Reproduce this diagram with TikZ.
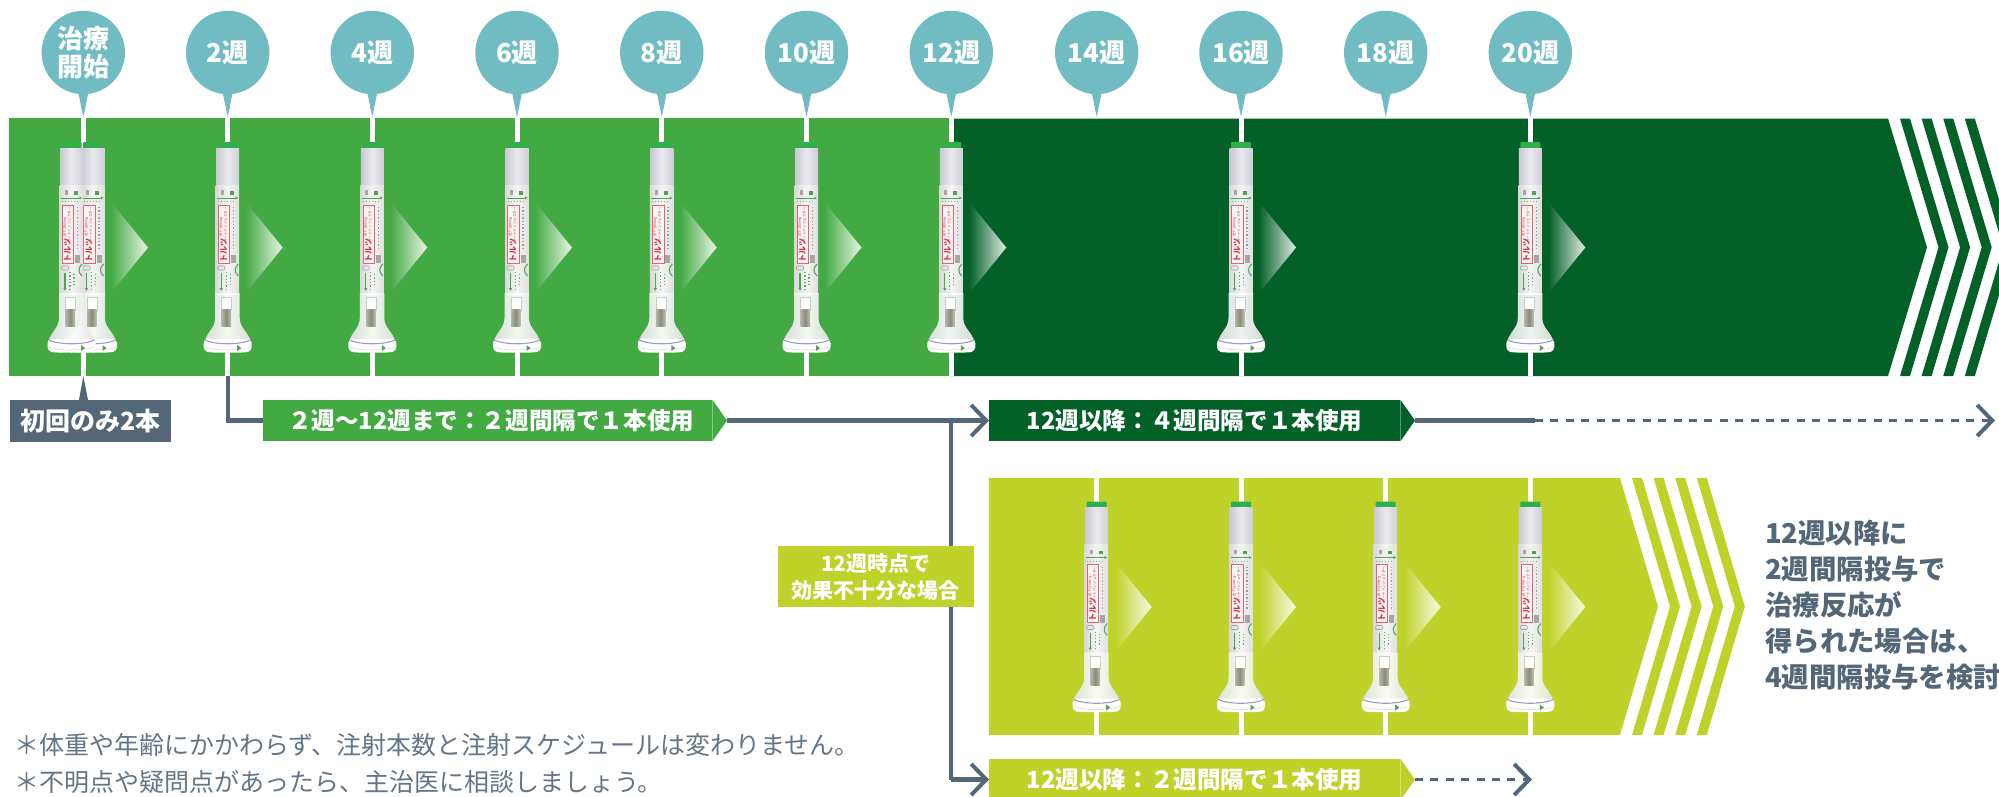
\documentclass[tikz,border=0pt]{standalone}
\usepackage{fontspec}
\setmainfont{Noto Sans CJK JP}
\usetikzlibrary{arrows.meta,calc}
\definecolor{cgreen}{HTML}{43A942}
\definecolor{cdark}{HTML}{036127}
\definecolor{clime}{HTML}{BFD22A}
\definecolor{cslate}{HTML}{536778}
\definecolor{cbub}{HTML}{71BCC2}
\definecolor{ccap}{HTML}{2FAE4B}
\definecolor{cpgreen}{HTML}{4BA84E}
\definecolor{cpred}{HTML}{E0313C}
\definecolor{cpgray}{HTML}{C9C9D3}
\tikzset{
  px/.style={x=1pt,y=-1pt},
  bubble/.style={circle,fill=cbub,text=white,minimum size=83.4pt,inner sep=0pt,align=center,
    font=\fontsize{26}{27.5}\selectfont\bfseries},
  banner/.style={rectangle,anchor=west,minimum height=41pt,inner sep=0pt,text=white,
    font=\fontsize{23.6}{26}\selectfont\bfseries},
  conn/.style={draw=cslate,line width=4.2pt},
  connarrow/.style={conn,-{Straight Barb[length=15pt,width=31pt,line width=4pt]}},
  dashconn/.style={draw=cslate,line width=3.7pt,dash pattern=on 8pt off 7.4pt,-{Straight Barb[length=15pt,width=31pt,line width=4pt]}},
  whiteline/.style={draw=white,line width=5pt},
  note/.style={anchor=west,inner sep=0pt,text=cslate!90,font=\fontsize{25}{25}\selectfont},
  side/.style={anchor=west,inner sep=0pt,text=cslate,font=\fontsize{27.4}{27.4}\selectfont\bfseries},
}
% gradient triangle beside a pen
\newcommand\tjtri[3]{%
  \shade[left color=#3,right color=white!88!#3]
    ($(#1,#2)+(18,202)$) -- ($(#1,#2)+(55,247.5)$) -- ($(#1,#2)+(18,293)$) -- cycle;}
% the auto-injector
\newcommand\tjpen[2]{%
\begin{scope}[shift={(#1,#2)}]
  \fill[ccap,rounded corners=1pt] (-10,142) rectangle (10,148.5);
  \shade[left color=cpgray,right color=cpgray!90,middle color=cpgray!40] (-11.5,148) rectangle (11.5,185);
  \shade[left color=gray!30,right color=gray!25,middle color=gray!8] (-12,185) rectangle (11.5,294);
  % clear part and flared foot
  \shade[left color=gray!22,right color=gray!22,middle color=white,opacity=.93] (-12.5,293) -- (12,293) -- (12,318)
     .. controls (12,328) and (20,331) .. (23.5,342) -- (-23.5,342)
     .. controls (-20,331) and (-12.5,328) .. (-12.5,318) -- cycle;
  \fill[white,opacity=.9] (-6,297) rectangle (4,312);
  \draw[gray!40,line width=.5pt] (-6,297) rectangle (4,310);
  \shade[left color=gray!60,right color=gray!50,middle color=gray!110!blue!100] (-6,309) rectangle (3.5,326);
  \fill[white,rounded corners=4pt] (-24,339) -- (24,339) -- (24,351)
     .. controls (16,353) and (-16,353) .. (-24,351) -- cycle;
  \draw[blue!30!gray!60,line width=1.1pt] (-23,340) .. controls (-12,345) and (12,345) .. (23,340);
  \draw[gray!35,line width=.5pt] (-23,347) .. controls (-12,351) and (12,351) .. (23,347);
  \fill[cpgreen] (9.5,345) -- (13.5,348) -- (9.5,351) -- cycle;
  % printed details
  \fill[gray!70] (-7,190) rectangle (-4,194.5);
  \fill[cpgreen] (2,191) rectangle (6,194.5);
  \draw[cpgreen,line width=.9pt,-{Latex[length=2.5pt,width=3pt]}] (-10.5,198) -- (10.5,198);
  \draw[cpgreen!80,line width=1pt,dotted] (-9.5,201.5) -- (7,201.5);
  \draw[cpred!75,line width=.6pt,fill=white!92!gray] (-9.3,205) rectangle (2,263);
  \node[rotate=90,text=cpred,inner sep=0pt,font=\fontsize{8}{8}\selectfont\bfseries] (pa) at (-4,250) {トルツ};
  \node[rotate=90,text=cpred,inner sep=0pt,font=\fontsize{3.6}{3.6}\selectfont] (pb) at (-2.3,225) {オートインジェクター};
  \node[rotate=90,text=cpred,inner sep=0pt,font=\fontsize{3.4}{3.4}\selectfont] (pc) at (-6.7,227) {皮下注80mg};
  \draw[gray!75,line width=1.4pt,dotted] (6,207) -- (6,250);
  \fill[gray!70] (3.5,255) rectangle (8.5,263);
  \draw[gray!70,line width=.6pt,rounded corners=1pt] (-10,266) rectangle (-3,270);
  \draw[cpgreen,line width=1.1pt,-{Latex[length=3pt,width=3.5pt]}] (-6.5,273) -- (-6.5,291);
  \draw[cpgreen!90,line width=1.3pt,dotted] (-1.5,272) -- (-1.5,290);
  \draw[cpgreen!90,line width=1.3pt,dotted] (2.5,274) -- (2.5,286);
  \draw[cpgreen,line width=1pt] (10.5,264) .. controls (6.5,268) and (6.5,272) .. (10.5,276);
\end{scope}}
\begin{document}
\begin{tikzpicture}[px]
\useasboundingbox (0,0) rectangle (1999,796);
\clip (0,0) rectangle (1999,796);

% bands
\fill[cgreen] (9,118) rectangle (950,376);
\fill[cdark] (950,118.5) -- (1888,118.5) -- (1927,247.3) -- (1888,376) -- (950,376) -- cycle;
\foreach \s in {1900,1921.6,1943.2,1964.8}
  \fill[cdark] (\s,118.5) -- (\s+10,118.5) -- (\s+48.5,247.3) -- (\s+10,376) -- (\s,376) -- (\s+38.5,247.3) -- cycle;
\fill[clime] (989,478) -- (1620,478) -- (1658,606.5) -- (1620,735) -- (989,735) -- cycle;
\foreach \s in {1632,1653.6,1675.2,1696.8}
  \fill[clime] (\s,478) -- (\s+10,478) -- (\s+48,606.5) -- (\s+10,735) -- (\s,735) -- (\s+38,606.5) -- cycle;

% white guide lines
\foreach \x in {83.3,227.7,372.3,517,661.8,806.5,951.3,1241,1530.3} {
  \draw[whiteline] (\x,116) -- (\x,150);
  \draw[whiteline] (\x,345) -- (\x,376);
}
\foreach \x in {1096.7,1241,1385.7,1530.3} {
  \draw[whiteline] (\x,478) -- (\x,510);
  \draw[whiteline] (\x,705) -- (\x,735);
}

% bubbles
\foreach \x/\n/\t in {83.3/b0/{治療\\開始},227.7/b2/2週,372.3/b4/4週,517/b6/6週,661.8/b8/8週,806.5/b10/10週,951.3/b12/12週,1096.7/b14/14週,1241/b16/16週,1385.7/b18/18週,1530.3/b20/20週} {
  \fill[cbub] (\x-5.5,90) -- (\x,117) -- (\x+5.5,90) -- cycle;
  \node[bubble] (\n) at (\x,52.5) {\t};
}

% gradient triangles and pens
\foreach \x in {93,227.7,372.3,517,661.8,806.5} {\tjtri{\x}{0}{cgreen}}
\foreach \x in {951.3,1241,1530.3} {\tjtri{\x}{0}{cdark}}
\foreach \x in {1096.7,1241,1385.7,1530.3} {\tjtri{\x}{359.5}{clime}}
\tjpen{93}{0}
\tjpen{71.5}{0}
\foreach \x in {227.7,372.3,517,661.8,806.5,951.3,1241,1530.3} {\tjpen{\x}{0}}
\foreach \x in {1096.7,1241,1385.7,1530.3} {\tjpen{\x}{359.5}}

% first-dose label
\node[rectangle,fill=cslate,text=white,anchor=north west,minimum width=161pt,minimum height=42pt,inner sep=0pt,
  font=\fontsize{25}{25}\selectfont\bfseries] (first) at (10,400) {初回のみ2本};
\coordinate (firsttip) at (83.3,376);
\fill[cslate] (79,400) -- (firsttip) -- (88,400) -- cycle;

% banners
\coordinate (c2) at (227.7,376);
\node[banner,fill=cgreen,minimum width=449pt] (l1) at (263,420.5) {\hspace{7pt}２週～12週まで：２週間隔で１本使用};
\coordinate (l1tip) at (727,420.5);
\fill[cgreen] (l1.north east) -- (l1tip) -- (l1.south east) -- cycle;
\node[banner,fill=cdark,minimum width=411pt] (l2) at (989,420.5) {12週以降：４週間隔で１本使用\hspace{8pt}};
\coordinate (l2tip) at (1415,420.5);
\fill[cdark] (l2.north east) -- (l2tip) -- (l2.south east) -- cycle;
\node[banner,fill=clime,minimum width=411pt] (l3) at (989,779.5) {12週以降：２週間隔で１本使用\hspace{8pt}};
\coordinate (l3tip) at (1415,779.5);
\fill[clime] (l3.north east) -- (l3tip) -- (l3.south east) -- cycle;

% connectors
\coordinate (branch) at (951,420.5);
\coordinate (dashstart) at (1535,420.5);
\coordinate (dashend) at (1995,420.5);
\coordinate (dashend2) at (1532,779.5);
\draw[conn] (c2) |- (l1.west);
\draw[connarrow] (l1tip) -- (l2.west);
\draw[conn] (branch) -- (branch |- l3.west);
\draw[connarrow] (branch |- l3.west) -- (l3.west);
\draw[conn] (l2tip) -- (dashstart);
\draw[dashconn] (dashstart) -- (dashend);
\draw[dashconn] (l3tip) -- (dashend2);

% decision box
\node[rectangle,fill=clime,text=white,anchor=north west,minimum width=196.5pt,minimum height=61pt,inner sep=0pt,align=center,
  font=\fontsize{21}{27}\selectfont\bfseries] (why) at (777.5,546) {12週時点で\\効果不十分な場合};

% side text
\node[side] (s1) at (1765,533) {12週以降に};
\node[side] (s2) at (1765,569) {2週間隔投与で};
\node[side] (s3) at (1765,605) {治療反応が};
\node[side] (s4) at (1765,641) {得られた場合は、};
\node[side] (s5) at (1765,677) {4週間隔投与を検討};

% notes
\node[note] (n1) at (14,745) {＊体重や年齢にかかわらず、注射本数と注射スケジュールは変わりません。};
\node[note] (n2) at (14,782) {＊不明点や疑問点があったら、主治医に相談しましょう。};
\end{tikzpicture}
\end{document}
